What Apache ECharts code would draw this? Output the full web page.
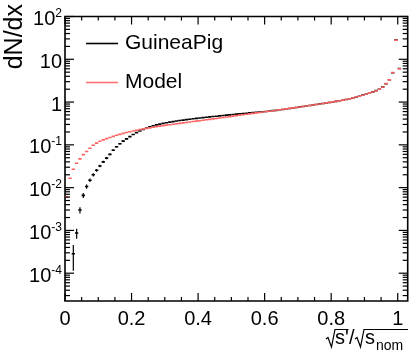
<!DOCTYPE html>
<html><head><meta charset="utf-8">
<script src="https://cdn.jsdelivr.net/npm/echarts@6.0.0/dist/echarts.min.js"></script>
<style>html,body{margin:0;padding:0;background:#fff}#c{width:409px;height:352px}</style>
</head><body><div id="c"></div>
<script>
// ---- histogram definition ----
const binStart = 0;
const binWidth = 0.01;
const seriesNames = ['GuineaPig', 'Model'];
// Model (red), bins 0.005 ... 1.005
const modelValues = [
  0.0061, 0.0166, 0.027, 0.037, 0.047, 0.059, 0.070, 0.083, 0.098, 0.110,
  0.121, 0.131, 0.140, 0.149, 0.158, 0.167, 0.176, 0.185, 0.194, 0.203,
  0.211, 0.219, 0.227, 0.235, 0.243, 0.250, 0.258, 0.266, 0.274, 0.282,
  0.289, 0.296, 0.303, 0.311, 0.318, 0.326, 0.334, 0.342, 0.350, 0.358,
  0.367, 0.376, 0.385, 0.394, 0.404, 0.414, 0.424, 0.435, 0.446, 0.458,
  0.470, 0.482, 0.494, 0.506, 0.518, 0.531, 0.544, 0.558, 0.572, 0.586,
  0.600, 0.612, 0.628, 0.645, 0.662, 0.678, 0.695, 0.712, 0.730, 0.748,
  0.768, 0.790, 0.810, 0.832, 0.855, 0.878, 0.902, 0.928, 0.955, 0.983,
  1.01, 1.04, 1.07, 1.11, 1.15, 1.20, 1.25, 1.31, 1.37, 1.44,
  1.52, 1.62, 1.72, 1.84, 1.99, 2.25, 2.70, 3.30, 4.90, 28.0,
  6.0
];
// GuineaPig (black)
const guineaPigValues = [
  null, null, 0.000284, 0.00087, 0.0030, 0.0066, 0.0106, 0.0149, 0.0200, 0.0255,
  0.032, 0.040, 0.049, 0.060, 0.075, 0.090, 0.106, 0.122, 0.138, 0.156,
  0.175, 0.193, 0.211, 0.228, 0.248, 0.264, 0.279, 0.293, 0.305, 0.317,
  0.329, 0.339, 0.349, 0.360, 0.370, 0.379, 0.388, 0.397, 0.406, 0.415,
  0.424, 0.433, 0.441, 0.450, 0.459, 0.467, 0.476, 0.485, 0.494, 0.503,
  0.513, 0.523, 0.531, 0.540, 0.549, 0.558, 0.566, 0.575, 0.585, 0.595,
  0.604, 0.617, 0.630, 0.641, 0.660, 0.672, 0.697, 0.709, 0.733, 0.745,
  0.770, 0.786, 0.812, 0.829, 0.857, 0.874, 0.905, 0.925, 0.957, 0.980,
  1.01, 1.04, 1.07, 1.10, 1.15, 1.20, 1.25, 1.30, 1.37, 1.45,
  1.52, 1.61, 1.73, 1.85, 2.00, 2.26, 2.68, 3.32, 4.85, 28.5,
  6.1
];
const guineaPigErrors = [
  0, 0, 0.00017, 0.00023, 0.0005, 0.0009, 0.0012, 0.0014, 0.0017, 0.0019,
  0.0022, 0.0025, 0.0028, 0.0031, 0.0035, 0.0038, 0.0041, 0.0044, 0.0047, 0.005
];
// ---- axes ----
const xMin = 0, xMax = 1.03;
const yMin = 2.24e-5, yMax = 100;
const xMajorTicks = [0, 0.2, 0.4, 0.6, 0.8, 1.0];
const xTickLabels = ['0', '0.2', '0.4', '0.6', '0.8', '1'];
const xMinorStep = 0.05;
const yTickExponents = [-4, -3, -2, -1, 0, 1, 2];
const yTitle = 'dN/dx';
const xTitleParts = ["s'", '/', 's', 'nom'];

const FONT = 'Liberation Sans, Arial, Helvetica, sans-serif';
const RED = '#ff6060';

function toData(vals, errs) {
  const out = [];
  vals.forEach((v, i) => {
    if (v == null) return;
    out.push([binStart + binWidth * (i + 0.5), v, (errs && errs[i]) || 0]);
  });
  return out;
}

function histRender(color, width) {
  return function (params, api) {
    const x = api.value(0), v = api.value(1), e = api.value(2);
    const a = api.coord([x - binWidth / 2, v]);
    const b = api.coord([x + binWidth / 2, v]);
    const children = [{
      type: 'line', shape: { x1: a[0], y1: a[1], x2: b[0], y2: b[1] },
      style: { stroke: color, lineWidth: width }
    }];
    if (e > 0) {
      const lo = Math.max(v - e, yMin), hi = v + e;
      const p = api.coord([x, lo]), q = api.coord([x, hi]);
      children.push({ type: 'line', shape: { x1: p[0], y1: p[1], x2: q[0], y2: q[1] },
        style: { stroke: color, lineWidth: 1.2 } });
    }
    return { type: 'group', children };
  };
}

function axesRender(params, api) {
  const ch = [];
  const o = api.coord([xMin, yMin]);
  const e = api.coord([xMax, yMax]);
  const left = o[0], bottom = o[1], right = e[0], top = e[1];
  const line = (x1, y1, x2, y2) => ch.push({ type: 'line', shape: { x1, y1, x2, y2 },
    style: { stroke: '#000', lineWidth: 1.2 } });
  xMajorTicks.forEach((t, i) => {
    const x = api.coord([t, yMin])[0];
    line(x, bottom, x, bottom - 8); line(x, top, x, top + 8);
    ch.push({ type: 'text', style: { text: xTickLabels[i], x: x, y: bottom + 18,
      align: 'center', verticalAlign: 'middle', fontSize: 20, fontFamily: FONT, fill: '#000' } });
  });
  for (let k = 1; k * xMinorStep < 1.0001; k++) {
    const t = k * xMinorStep;
    if (Math.abs(t / 0.2 - Math.round(t / 0.2)) < 1e-6) continue;
    const x = api.coord([t, yMin])[0];
    line(x, bottom, x, bottom - 4); line(x, top, x, top + 4);
  }
  yTickExponents.forEach(n => {
    const y = api.coord([xMin, Math.pow(10, n)])[1];
    line(left, y, left + 9, y); line(right, y, right - 9, y);
    let txt;
    if (n === 0) txt = '{b|1}';
    else if (n === 1) txt = '{b|10}';
    else txt = '{b|10}{s|' + n + '}';
    ch.push({ type: 'text', style: { text: txt, x: left - 3, y: y + 2,
      align: 'right', verticalAlign: 'middle', fill: '#000',
      rich: {
        b: { fontSize: 20, fontFamily: FONT, fill: '#000', verticalAlign: 'bottom', lineHeight: 22 },
        s: { fontSize: 12, fontFamily: FONT, fill: '#000', verticalAlign: 'top', lineHeight: 12 }
      } } });
  });
  for (let n = -5; n <= 1; n++) {
    for (let k = 2; k <= 9; k++) {
      const v = k * Math.pow(10, n);
      if (v < yMin || v > yMax) continue;
      const y = api.coord([xMin, v])[1];
      line(left, y, left + 5, y); line(right, y, right - 5, y);
    }
  }
  return { type: 'group', children: ch };
}

const txtStyle = (text, size, align) => ({ text, align: align || 'left', verticalAlign: 'middle',
  fontSize: size, fontFamily: FONT, fill: '#000' });
const radical = (x0, x1) => ({ type: 'polyline', silent: true,
  shape: { points: [[x0 - 2, 339], [x0, 337.5], [x0 + 3.5, 347], [x0 + 7, 329.5], [x1, 329.5]] },
  style: { stroke: '#000', lineWidth: 1.2, fill: null } });

const chart = echarts.init(document.getElementById('c'), null, { renderer: 'canvas' });
chart.setOption({
  animation: false,
  backgroundColor: '#fff',
  grid: { left: 65, right: 1.3, top: 16.5, bottom: 51, show: true,
    borderColor: '#000', borderWidth: 1.6, backgroundColor: 'transparent' },
  xAxis: { type: 'value', min: xMin, max: xMax, axisLine: { show: false },
    axisTick: { show: false }, axisLabel: { show: false }, splitLine: { show: false } },
  yAxis: { type: 'log', logBase: 10, min: yMin, max: yMax, axisLine: { show: false },
    axisTick: { show: false }, axisLabel: { show: false }, splitLine: { show: false } },
  legend: {
    data: [{ name: seriesNames[0], icon: 'rect' }, { name: seriesNames[1], icon: 'rect' }],
    orient: 'vertical', left: 86, top: 33, padding: 0, itemWidth: 32, itemHeight: 1.6, itemGap: 18,
    selectedMode: false,
    textStyle: { fontSize: 21, fontFamily: FONT, color: '#000', padding: [0, 0, 0, 2] }
  },
  graphic: [
    { type: 'text', x: 15, y: 4, rotation: Math.PI / 2,
      style: { text: yTitle, align: 'right', verticalAlign: 'middle', fontSize: 25, fontFamily: FONT, fill: '#000' } },
    radical(328, 348.5),
    { type: 'text', x: 335, y: 338.5, style: txtStyle(xTitleParts[0], 20) },
    { type: 'text', x: 349, y: 338.5, style: txtStyle(xTitleParts[1], 20) },
    radical(357, 408),
    { type: 'text', x: 365, y: 338.5, style: txtStyle(xTitleParts[2], 20) },
    { type: 'text', x: 376, y: 346, style: txtStyle(xTitleParts[3], 14) }
  ],
  series: [
    { name: 'axes', type: 'custom', data: [[0.5, 1]], renderItem: axesRender, silent: true, z: 5, clip: false },
    { name: seriesNames[0], type: 'custom', itemStyle: { color: '#000' }, clip: true,
      data: toData(guineaPigValues, guineaPigErrors), renderItem: histRender('#000', 1.6), z: 3 },
    { name: seriesNames[1], type: 'custom', itemStyle: { color: RED, opacity: 0.9 }, clip: true,
      data: toData(modelValues, null), renderItem: histRender(RED, 1.6), z: 4 }
  ]
});
</script></body></html>
